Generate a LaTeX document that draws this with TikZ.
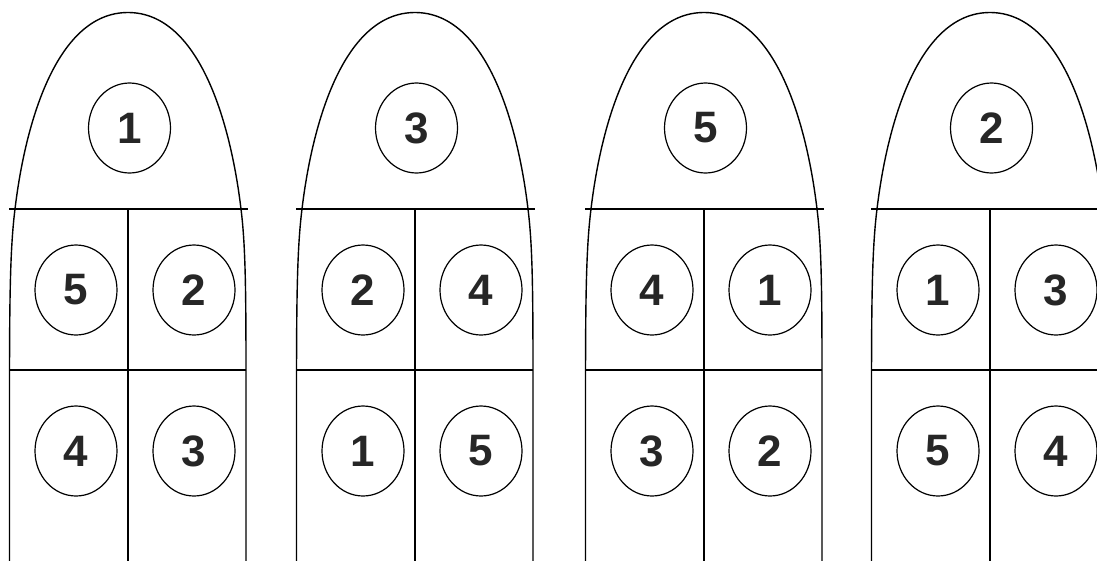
\documentclass[tikz,border=0pt]{standalone}
\usepackage{fontspec}
\setmainfont{Liberation Sans}
\usetikzlibrary{shapes.geometric}
\tikzset{
  outline/.style={line width=1.4pt, black, line join=round},
  divider/.style={line width=1.3pt, black},
  disc/.style={ellipse, draw, line width=1.2pt, minimum width=82pt, minimum height=90pt,
    inner sep=0pt, text=black!85, font=\fontsize{44}{44}\selectfont\bfseries}
}
\begin{document}
\begin{tikzpicture}[x=1pt,y=-1pt]
\useasboundingbox (0,0) rectangle (1097,560);
\fill[white] (0,0) rectangle (1097,560);
\clip (0,0) rectangle (1097,560);
\foreach \cx/\t/\a/\b/\c/\d [count=\i] in {128/1/5/2/4/3, 415/3/2/4/1/5, 704/5/4/1/3/2, 990/2/1/3/5/4}{
  % outline of the bullet shape
  \draw[outline] (\cx-118.5,562) -- (\cx-118.5,400)
     .. controls (\cx-118.5,300) and (\cx-118,249) .. (\cx-113,209)
     .. controls (\cx-103,125) and (\cx-72,12.5) .. (\cx,12.5)
     .. controls (\cx+72,12.5) and (\cx+103,125) .. (\cx+113,209)
     .. controls (\cx+118,249) and (\cx+118,300) .. (\cx+118,400)
     -- (\cx+118,562);
  % dividers
  \draw[divider] (\cx-119,209) -- (\cx+120,209);
  \draw[divider] (\cx-118.5,370) -- (\cx+118,370);
  \draw[divider] (\cx,209) -- (\cx,562);
  % numbered discs
  \node[disc] (t\i)  at (\cx+1.5,128) {\t};
  \node[disc] (ul\i) at (\cx-52,290) {\a};
  \node[disc] (ur\i) at (\cx+66,290) {\b};
  \node[disc] (ll\i) at (\cx-52,451) {\c};
  \node[disc] (lr\i) at (\cx+66,451) {\d};
}
\end{tikzpicture}
\end{document}
